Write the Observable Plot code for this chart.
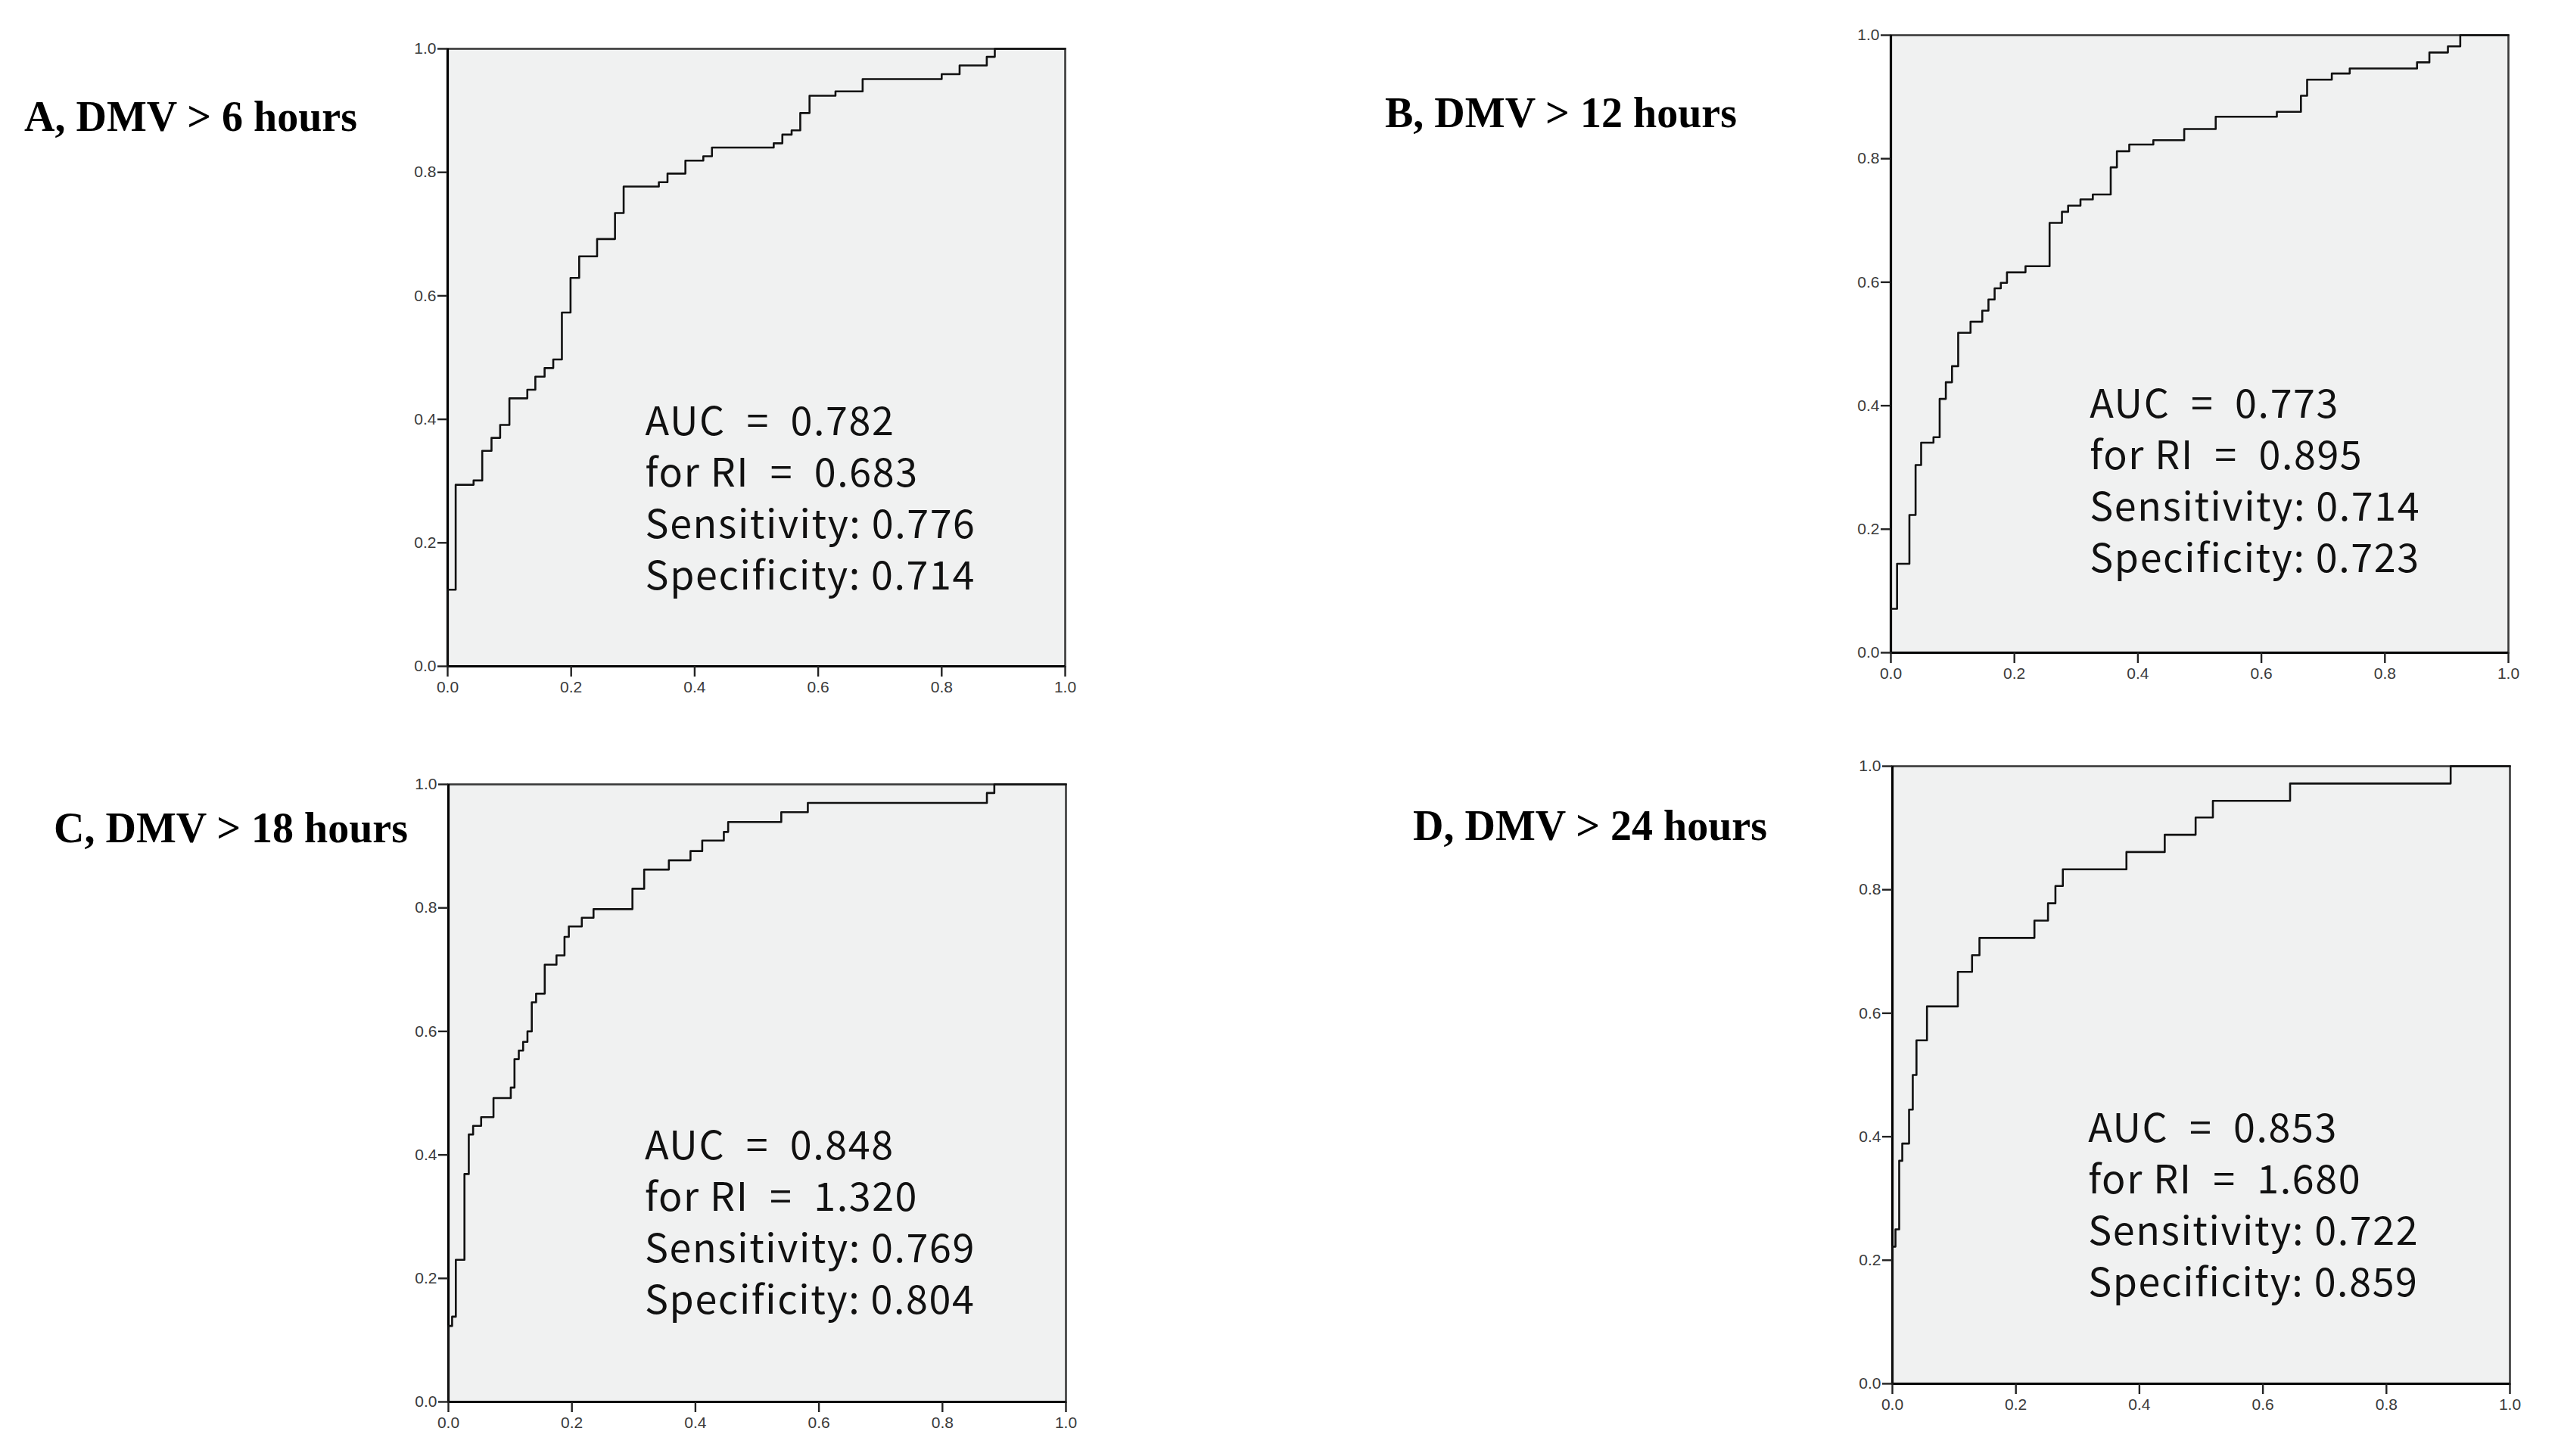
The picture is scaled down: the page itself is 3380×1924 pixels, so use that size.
<!DOCTYPE html>
<html>
<head>
<meta charset="utf-8">
<script src="https://cdn.jsdelivr.net/npm/d3@7"></script>
<script src="https://cdn.jsdelivr.net/npm/@observablehq/plot@0.6"></script>
<style>
  html, body { margin: 0; padding: 0; background: #fff; }
  #root { position: relative; width: 3380px; height: 1924px; background: #fff; overflow: hidden; }
  .title { position: absolute; font-family: "Liberation Serif", "Times New Roman", serif; font-weight: bold; font-size: 56px; line-height: 56px; color: #000; white-space: nowrap; }
  .panel { position: absolute; }
</style>
</head>
<body>
<div id="root"></div>
<script>
// ---- Data ----
const panelTitles = ["A, DMV > 6 hours", "B, DMV > 12 hours", "C, DMV > 18 hours", "D, DMV > 24 hours"];
const axisTicks = [0, 0.2, 0.4, 0.6, 0.8, 1.0];

// Panel A: 1 - specificity (x) and sensitivity (y) at each step
const A_fpr = [0, 0, 0.013, 0.042, 0.056, 0.071, 0.085, 0.100, 0.129, 0.142, 0.157, 0.171, 0.185, 0.199, 0.213, 0.242, 0.271, 0.285, 0.342, 0.356, 0.385, 0.414, 0.428, 0.528, 0.542, 0.557, 0.571, 0.586, 0.628, 0.672, 0.800, 0.829, 0.873, 0.886, 1.0];
const A_tpr = [0, 0.124, 0.294, 0.301, 0.349, 0.370, 0.391, 0.434, 0.448, 0.469, 0.483, 0.497, 0.573, 0.629, 0.664, 0.692, 0.734, 0.777, 0.784, 0.798, 0.819, 0.826, 0.840, 0.847, 0.861, 0.868, 0.896, 0.924, 0.931, 0.951, 0.959, 0.973, 0.987, 1.0, 1.0];
const A_notes = ["AUC = 0.782", "for RI = 0.683", "Sensitivity: 0.776", "Specificity: 0.714"];

// Panel B
const B_fpr = [0, 0, 0.010, 0.030, 0.040, 0.049, 0.069, 0.079, 0.089, 0.099, 0.109, 0.129, 0.148, 0.158, 0.168, 0.178, 0.188, 0.218, 0.257, 0.277, 0.287, 0.307, 0.327, 0.356, 0.366, 0.386, 0.425, 0.475, 0.526, 0.625, 0.664, 0.674, 0.714, 0.743, 0.852, 0.872, 0.902, 0.922, 1.0];
const B_tpr = [0, 0.071, 0.144, 0.223, 0.304, 0.340, 0.349, 0.411, 0.438, 0.464, 0.518, 0.536, 0.554, 0.572, 0.590, 0.599, 0.616, 0.626, 0.696, 0.714, 0.724, 0.734, 0.742, 0.786, 0.812, 0.823, 0.830, 0.848, 0.868, 0.876, 0.902, 0.928, 0.938, 0.946, 0.956, 0.972, 0.982, 1.0, 1.0];
const B_notes = ["AUC = 0.773", "for RI = 0.895", "Sensitivity: 0.714", "Specificity: 0.723"];

// Panel C
const C_fpr = [0, 0, 0.006, 0.012, 0.026, 0.033, 0.040, 0.053, 0.073, 0.101, 0.107, 0.114, 0.121, 0.128, 0.135, 0.142, 0.156, 0.175, 0.188, 0.195, 0.216, 0.235, 0.298, 0.317, 0.357, 0.392, 0.411, 0.446, 0.453, 0.539, 0.582, 0.872, 0.884, 1.0];
const C_tpr = [0, 0.123, 0.138, 0.230, 0.369, 0.433, 0.447, 0.461, 0.492, 0.509, 0.555, 0.569, 0.583, 0.600, 0.647, 0.661, 0.708, 0.723, 0.753, 0.770, 0.784, 0.798, 0.831, 0.862, 0.877, 0.892, 0.909, 0.923, 0.939, 0.955, 0.970, 0.986, 1.0, 1.0];
const C_notes = ["AUC = 0.848", "for RI = 1.320", "Sensitivity: 0.769", "Specificity: 0.804"];

// Panel D
const D_fpr = [0, 0, 0.005, 0.011, 0.016, 0.027, 0.033, 0.039, 0.056, 0.106, 0.129, 0.141, 0.230, 0.252, 0.264, 0.276, 0.379, 0.441, 0.491, 0.519, 0.644, 0.904, 1.0];
const D_tpr = [0, 0.222, 0.250, 0.361, 0.389, 0.444, 0.500, 0.556, 0.611, 0.667, 0.694, 0.722, 0.750, 0.778, 0.806, 0.833, 0.861, 0.889, 0.917, 0.944, 0.972, 1.0, 1.0];
const D_notes = ["AUC = 0.853", "for RI = 1.680", "Sensitivity: 0.722", "Specificity: 0.859"];

// ---- Layout ----
const SIZE = 816;
const ML = 60, MR = 24, MT = 14, MB = 52;
const panels = [
  {fpr: A_fpr, tpr: A_tpr, notes: A_notes, left: 591, top: 64, noteX: 0.320, noteY: 0.372, tx: 32, tb: 173},
  {fpr: B_fpr, tpr: B_tpr, notes: B_notes, left: 2498, top: 46, noteX: 0.322, noteY: 0.378, tx: 1830, tb: 168},
  {fpr: C_fpr, tpr: C_tpr, notes: C_notes, left: 592, top: 1036, noteX: 0.318, noteY: 0.391, tx: 71, tb: 1113},
  {fpr: D_fpr, tpr: D_tpr, notes: D_notes, left: 2500, top: 1012, noteX: 0.317, noteY: 0.389, tx: 1867, tb: 1110}
];

const root = document.getElementById("root");
const fmt = d3.format(".1f");
// wider spaces around "=" as in the reference typesetting
const spaced = s => s.replace(/ = /g, "\u2002=\u2002");

panels.forEach((p, i) => {
  const pts = p.fpr.map((x, k) => ({x, y: p.tpr[k]}));
  const noteFont = 52;
  const chart = Plot.plot({
    width: ML + SIZE + MR,
    height: MT + SIZE + MB,
    marginLeft: ML, marginRight: MR, marginTop: MT, marginBottom: MB,
    style: {fontFamily: "Liberation Sans, Arial, sans-serif", fontSize: "21px", background: "transparent", overflow: "visible"},
    x: {domain: [0, 1], axis: null},
    y: {domain: [0, 1], axis: null},
    marks: [
      Plot.frame({fill: "#f0f1f1", stroke: "none"}),
      Plot.frame({stroke: "#3a3a3a", strokeWidth: 2.6}),
      Plot.ruleX([0], {stroke: "#000", strokeWidth: 3.2}),
      Plot.ruleY([0], {stroke: "#000", strokeWidth: 3.2}),
      Plot.line(pts, {x: "x", y: "y", curve: "step-after", stroke: "#111", strokeWidth: 2.6}),
      Plot.text([p.notes.map(spaced).join("\n")], {
        x: () => p.noteX, y: () => p.noteY, text: d => d,
        textAnchor: "start", lineAnchor: "top", dy: -Math.round(noteFont * 0.72) - 13,
        lineHeight: 68 / noteFont,
        fontFamily: "Noto Sans CJK JP", fontSize: noteFont, fill: "#111",
        style: "letter-spacing: 1.6px"
      }),
      Plot.axisX(axisTicks, {label: null, tickSize: 14, tickPadding: 6, tickFormat: fmt, stroke: "#222", strokeWidth: 2.4, fill: "#3a3a3a", fontSize: 21, fontWeight: 500}),
      Plot.axisY(axisTicks, {label: null, tickSize: 13, tickPadding: 2, tickFormat: fmt, stroke: "#222", strokeWidth: 2.4, fill: "#3a3a3a", fontSize: 21, fontWeight: 500})
    ]
  });
  chart.querySelectorAll("text").forEach(el => {
    if (el.closest("g[aria-label='text']")) el.style.letterSpacing = "1.6px";
  });
  const wrap = document.createElement("div");
  wrap.className = "panel";
  wrap.style.left = (p.left - ML) + "px";
  wrap.style.top = (p.top - MT) + "px";
  wrap.appendChild(chart);
  root.appendChild(wrap);

  const t = document.createElement("div");
  t.className = "title";
  t.textContent = panelTitles[i];
  t.style.left = p.tx + "px";
  t.style.top = (p.tb - 47) + "px";
  root.appendChild(t);
});
</script>
</body>
</html>
